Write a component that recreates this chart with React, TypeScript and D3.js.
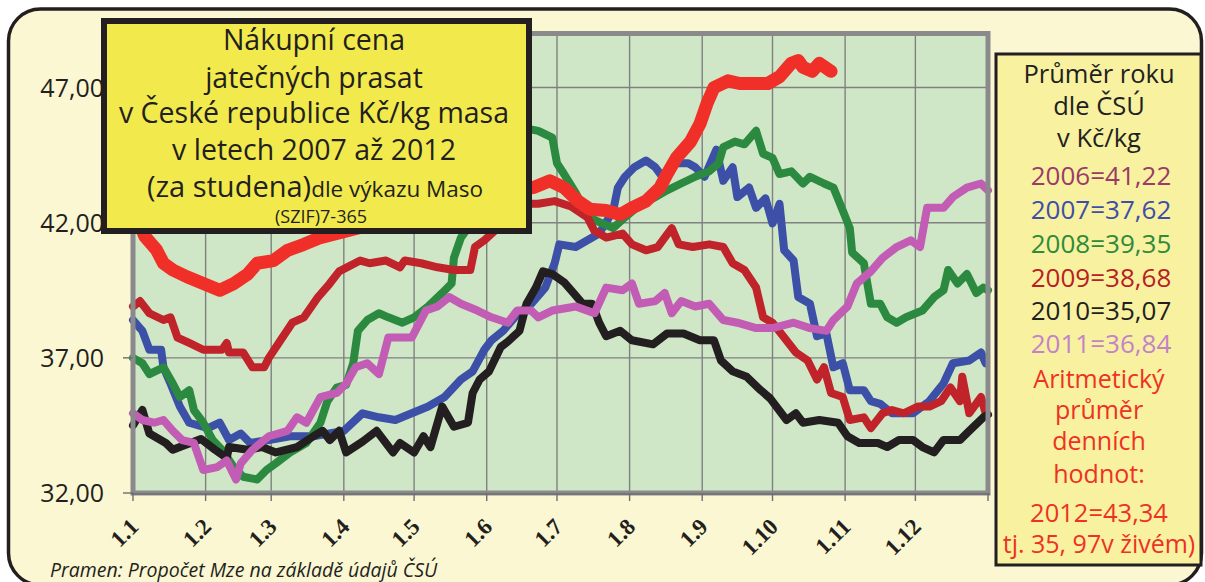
import React from 'react';
import * as d3 from 'd3';

// ---- data (day of year, value in Kč/kg) ----
const monthDays = [0, 31, 59, 90, 120, 151, 181, 212, 243, 273, 304, 334];
const monthLabels = ['1.1', '1.2', '1.3', '1.4', '1.5', '1.6', '1.7', '1.8', '1.9', '1.10', '1.11', '1.12'];
const yTicks = [32, 37, 42, 47];
const yTickLabels = ['32,00', '37,00', '42,00', '47,00'];

const days2007 = [0, 4, 7, 12, 13, 16, 20, 24, 32, 37, 41, 46, 50, 58, 67, 77, 90, 98, 105, 112, 119, 126, 133, 140, 145, 150, 153, 158, 164, 170, 176, 180, 182, 189, 194, 199, 205, 207, 210, 214, 219, 223, 226, 231, 237, 240, 244, 249, 252, 256, 258, 263, 266, 270, 273, 276, 278, 282, 284, 289, 292, 296, 299, 303, 306, 312, 315, 319, 324, 333, 340, 346, 350, 357, 362, 364];
const vals2007 = [38.4, 38.0, 37.3, 37.3, 36.65, 36.05, 35.2, 34.6, 34.4, 34.6, 33.96, 34.2, 33.85, 33.96, 34.1, 34.1, 34.3, 34.95, 34.8, 34.7, 34.95, 35.2, 35.55, 36.2, 36.5, 37.3, 37.65, 38.0, 38.6, 39.0, 39.6, 40.5, 41.2, 41.1, 41.35, 41.6, 42.45, 43.3, 43.7, 44.05, 44.3, 44.05, 43.7, 44.2, 44.2, 44.05, 43.7, 44.7, 43.55, 44.05, 42.95, 43.3, 42.55, 42.9, 41.97, 42.7, 40.98, 40.6, 39.25, 39.0, 37.8, 37.9, 36.65, 36.8, 35.8, 35.8, 35.4, 35.3, 34.95, 34.95, 35.4, 36.05, 36.8, 36.9, 37.2, 36.8];

const days2008 = [0, 4, 7, 13, 17, 20, 24, 26, 30, 34, 38, 43, 47, 53, 57, 61, 67, 74, 80, 83, 87, 91, 94, 96, 100, 105, 109, 115, 120, 126, 132, 136, 137, 140, 143, 148, 155, 161, 167, 173, 179, 181, 184, 189, 193, 197, 205, 210, 217, 223, 228, 234, 240, 246, 250, 252, 257, 261, 266, 269, 273, 276, 281, 286, 289, 295, 299, 303, 306, 307, 312, 315, 319, 322, 326, 330, 337, 342, 346, 348, 352, 356, 360, 363, 365];
const vals2008 = [37.0, 36.8, 36.4, 36.65, 36.05, 35.55, 35.8, 35.07, 34.6, 33.96, 33.6, 32.96, 32.6, 32.5, 32.85, 33.1, 33.5, 33.85, 34.6, 35.4, 35.9, 36.0, 36.8, 38.0, 38.4, 38.65, 38.5, 38.3, 38.5, 38.9, 39.4, 39.75, 40.7, 41.45, 41.8, 43.0, 44.3, 45.2, 45.5, 45.4, 45.15, 44.2, 43.8, 43.1, 42.45, 42.1, 41.8, 42.2, 42.7, 42.95, 43.2, 43.45, 43.7, 43.9, 44.2, 44.8, 45.0, 44.9, 45.4, 44.55, 44.4, 43.8, 43.9, 43.45, 43.7, 43.45, 43.3, 42.45, 41.8, 40.9, 40.5, 39.0, 39.0, 38.5, 38.3, 38.5, 38.75, 39.25, 39.5, 40.25, 39.75, 40.1, 39.4, 39.6, 39.5];

const days2009 = [0, 3, 7, 13, 16, 19, 24, 30, 38, 40, 41, 47, 51, 56, 58, 63, 68, 73, 79, 84, 88, 97, 101, 108, 114, 116, 123, 130, 137, 144, 146, 150, 157, 162, 167, 173, 180, 187, 194, 197, 202, 209, 213, 219, 224, 230, 233, 239, 246, 252, 256, 261, 266, 269, 273, 278, 283, 288, 292, 295, 298, 303, 306, 312, 315, 320, 324, 329, 335, 340, 345, 349, 353, 354, 357, 362, 364];
const vals2009 = [38.9, 39.1, 38.65, 38.4, 38.5, 37.75, 37.55, 37.3, 37.3, 37.55, 37.2, 37.2, 36.65, 36.65, 37.0, 37.65, 38.3, 38.5, 39.25, 39.75, 40.2, 40.6, 40.5, 40.6, 40.35, 40.6, 40.5, 40.35, 40.25, 40.25, 41.1, 41.35, 41.9, 42.4, 42.7, 42.7, 42.8, 42.6, 42.2, 41.7, 41.45, 41.6, 41.2, 40.98, 41.1, 41.8, 41.2, 41.1, 41.2, 41.1, 40.5, 40.25, 39.6, 38.5, 38.3, 37.75, 37.2, 36.9, 36.2, 36.65, 35.7, 35.55, 34.7, 34.8, 34.4, 34.95, 35.07, 34.95, 35.2, 35.2, 35.4, 35.9, 35.4, 36.3, 34.95, 35.55, 34.95];

const days2010 = [0, 4, 7, 14, 17, 20, 29, 35, 40, 41, 49, 55, 61, 70, 77, 81, 84, 88, 91, 98, 104, 111, 114, 120, 124, 127, 132, 137, 143, 145, 148, 152, 157, 160, 165, 168, 172, 175, 179, 184, 188, 192, 196, 199, 202, 208, 213, 222, 228, 235, 242, 248, 251, 256, 262, 268, 272, 279, 283, 286, 293, 301, 305, 310, 318, 322, 327, 333, 337, 342, 346, 353, 357, 363, 365];
const vals2010 = [34.5, 35.07, 34.2, 33.85, 33.6, 33.7, 34.0, 33.6, 33.3, 33.7, 33.6, 33.7, 33.5, 33.7, 34.1, 34.3, 33.96, 34.3, 33.5, 33.9, 34.3, 33.5, 33.85, 33.5, 34.1, 33.7, 35.2, 34.45, 34.6, 35.7, 36.2, 36.5, 37.4, 37.6, 38.0, 39.0, 39.6, 40.2, 40.1, 39.8, 39.4, 39.0, 39.0, 38.3, 37.8, 38.0, 37.65, 37.5, 37.9, 37.9, 37.65, 37.65, 36.9, 36.5, 36.3, 35.8, 35.5, 34.7, 34.95, 34.6, 34.7, 34.6, 34.1, 33.85, 33.85, 33.7, 33.96, 33.96, 33.7, 33.5, 33.96, 33.96, 34.3, 34.8, 34.9];

const days2011 = [0, 4, 9, 13, 17, 21, 26, 30, 36, 40, 44, 46, 51, 58, 66, 70, 74, 80, 87, 91, 95, 100, 105, 109, 115, 119, 125, 130, 135, 140, 147, 153, 160, 164, 170, 173, 179, 189, 197, 202, 209, 213, 216, 223, 227, 230, 234, 240, 246, 252, 258, 266, 273, 282, 289, 296, 299, 305, 309, 315, 320, 326, 332, 336, 339, 346, 350, 356, 362, 365];
const vals2011 = [34.95, 34.7, 34.6, 34.7, 34.3, 33.96, 33.85, 32.85, 32.96, 33.2, 32.5, 33.1, 33.6, 34.1, 34.3, 34.8, 34.6, 35.55, 35.7, 36.05, 36.65, 36.8, 36.4, 37.75, 37.75, 37.75, 38.75, 38.9, 39.25, 39.0, 38.75, 38.5, 38.3, 38.75, 38.75, 38.5, 38.75, 38.9, 38.65, 39.6, 39.5, 39.75, 39.0, 39.1, 39.4, 38.65, 39.1, 38.9, 39.0, 38.4, 38.3, 38.1, 38.1, 38.3, 38.1, 38.0, 38.4, 38.9, 39.75, 40.2, 40.7, 41.1, 41.35, 41.1, 42.55, 42.55, 42.95, 43.3, 43.45, 43.2];

const days2012 = [0, 5, 10, 13, 17, 23, 30, 37, 43, 49, 53, 60, 66, 73, 80, 87, 105, 127, 148, 171, 178, 184, 190, 195, 202, 208, 213, 219, 225, 228, 232, 238, 242, 245, 248, 254, 259, 265, 271, 276, 281, 284, 286, 290, 293, 298];
const vals2012 = [42.6, 41.5, 41.0, 40.5, 40.25, 40.0, 39.75, 39.5, 39.75, 40.1, 40.5, 40.6, 40.98, 41.2, 41.45, 41.6, 42.0, 42.6, 43.1, 43.3, 43.55, 43.3, 42.8, 42.5, 42.45, 42.3, 42.55, 42.8, 43.3, 43.8, 44.4, 45.0, 45.65, 46.4, 47.0, 47.25, 47.15, 47.15, 47.15, 47.4, 47.9, 48.0, 47.75, 47.6, 47.9, 47.6];

const seriesNames = ['2007', '2008', '2009', '2010', '2011'];
const seriesDays = [days2007, days2008, days2009, days2010, days2011];
const seriesValues = [vals2007, vals2008, vals2009, vals2010, vals2011];
const seriesColors = ['#3c50a8', '#2c8a40', '#c0242a', '#231f20', '#c35cb5'];
const redColor = '#f03028';

const titleLines = ['Nákupní cena', 'jatečných prasat', 'v České republice Kč/kg masa', 'v letech 2007 až 2012'];
const legendHead = ['Průměr roku', 'dle ČSÚ', 'v Kč/kg'];
const legendYears = ['2006=41,22', '2007=37,62', '2008=39,35', '2009=38,68', '2010=35,07', '2011=36,84'];
const legendYearColors = ['#9b3b68', '#3d4fa6', '#2f8a3c', '#b82025', '#231f20', '#c483c8'];
const legendFoot = ['Aritmetický', 'průměr', 'denních', 'hodnot:', '2012=43,34', 'tj. 35, 97v živém)'];

const W = 1205;
const H = 582;
const font = '"Open Sans", "Noto Sans", sans-serif';

export default function App() {
  const x = d3.scaleLinear().domain([0, 365]).range([133, 988]);
  const y = d3.scaleLinear().domain([32, 49]).range([493, 33.5]);

  const lineGen = (days: number[]) =>
    d3
      .line<number>()
      .x((_, i) => x(days[i]))
      .y((v) => y(v))
      .curve(d3.curveLinear);

  const [x0, x1] = x.range();
  const [yb, yt] = y.range();

  const titleBaselines = [50, 88, 123, 160];
  const legendBaselines = [83, 115, 147];
  const yearBaselines = [185, 219, 253, 287, 320, 353];
  const footBaselines = [388, 419, 450, 483, 522, 553];
  const footSizes = [25, 25, 25, 25, 25.5, 25];

  return (
    <div style={{ position: 'fixed', left: 0, top: 0 }}>
      <svg width={W} height={H} style={{ display: 'block' }}>
        <rect x={0} y={0} width={W} height={H} fill="#ffffff" />
        <rect x={8.5} y={9} width={1193} height={576} rx={32} ry={32} fill="#faf7d2" stroke="#231f20" strokeWidth={3.5} />

        {/* plot background */}
        <rect x={x0} y={yt} width={x1 - x0} height={yb - yt} fill="#cfe7c7" />

        {/* grid */}
        {monthDays.slice(1).map((d) => (
          <line key={'gx' + d} x1={x(d)} x2={x(d)} y1={yt} y2={yb} stroke="#808080" strokeWidth={1.4} />
        ))}
        {yTicks.slice(1).map((t) => (
          <line key={'gy' + t} x1={x0} x2={x1} y1={y(t)} y2={y(t)} stroke="#808080" strokeWidth={1.4} />
        ))}

        {/* series */}
        {seriesValues.map((vals, i) => (
          <path
            key={seriesNames[i]}
            d={lineGen(seriesDays[i])(vals) || ''}
            fill="none"
            stroke={seriesColors[i]}
            strokeWidth={8}
            strokeLinejoin="round"
            strokeLinecap="round"
          />
        ))}
        <path
          d={lineGen(days2012)(vals2012) || ''}
          fill="none"
          stroke={redColor}
          strokeWidth={13}
          strokeLinejoin="round"
          strokeLinecap="round"
        />

        {/* plot frame */}
        <rect x={x0} y={yt} width={x1 - x0} height={yb - yt} fill="none" stroke="#8a8a8c" strokeWidth={5} />
        <line x1={x0 - 2} x2={x1 + 2} y1={yb + 1} y2={yb + 1} stroke="#6e6e70" strokeWidth={1.5} />

        {/* y axis ticks & labels */}
        {yTicks.map((t, i) => (
          <g key={'yt' + t}>
            <line x1={123} x2={x0} y1={y(t)} y2={y(t)} stroke="#6e6e70" strokeWidth={1.4} />
            <text x={104} y={y(t) + 9} textAnchor="end" fontFamily={font} fontSize={25} fill="#231f20">
              {yTickLabels[i]}
            </text>
          </g>
        ))}

        {/* x ticks & labels */}
        {monthDays.map((d, i) => (
          <g key={'xt' + d}>
            <line x1={x(d)} x2={x(d)} y1={yb} y2={yb + 8} stroke="#6e6e70" strokeWidth={1.4} />
            <text
              transform={`translate(${x(d) + 7},${yb + 35}) rotate(-45)`}
              textAnchor="end"
              fontFamily='"Liberation Serif", "Times New Roman", serif'
              fontWeight="bold"
              fontSize={23}
              fill="#231f20"
            >
              {monthLabels[i]}
            </text>
          </g>
        ))}
        <line x1={x1} x2={x1} y1={yb} y2={yb + 8} stroke="#6e6e70" strokeWidth={1.4} />

        {/* title box */}
        <rect x={104} y={21} width={425} height={210} fill="#f2ea4c" stroke="#231f20" strokeWidth={6} />
        {titleLines.map((t, i) => (
          <text key={t} x={314} y={titleBaselines[i]} textAnchor="middle" fontFamily={font} fontSize={28.5} fill="#231f20">
            {t}
          </text>
        ))}
        <text x={315} y={197} textAnchor="middle" fontFamily={font} fill="#231f20">
          <tspan fontSize={29}>(za studena)</tspan>
          <tspan fontSize={22.5}>dle výkazu Maso</tspan>
        </text>
        <text x={321} y={223} textAnchor="middle" fontFamily={font} fontSize={18} fill="#231f20">
          (SZIF)7-365
        </text>

        {/* legend box */}
        <rect x={996} y={54} width={205} height={511} fill="#f7f1a0" stroke="#231f20" strokeWidth={3} />
        {legendHead.map((t, i) => (
          <text key={t} x={1099} y={legendBaselines[i]} textAnchor="middle" fontFamily={font} fontSize={25.5} fill="#231f20">
            {t}
          </text>
        ))}
        {legendYears.map((t, i) => (
          <text key={t} x={1101} y={yearBaselines[i]} textAnchor="middle" fontFamily={font} fontSize={26} fill={legendYearColors[i]}>
            {t}
          </text>
        ))}
        {legendFoot.map((t, i) => (
          <text key={t} x={1099} y={footBaselines[i]} textAnchor="middle" fontFamily={font} fontSize={footSizes[i]} fill="#ee3124">
            {t}
          </text>
        ))}

        {/* source */}
        <text x={50} y={577} fontFamily={font} fontStyle="italic" fontSize={19.5} fill="#231f20">
          Pramen: Propočet Mze na základě údajů ČSÚ
        </text>
      </svg>
    </div>
  );
}
